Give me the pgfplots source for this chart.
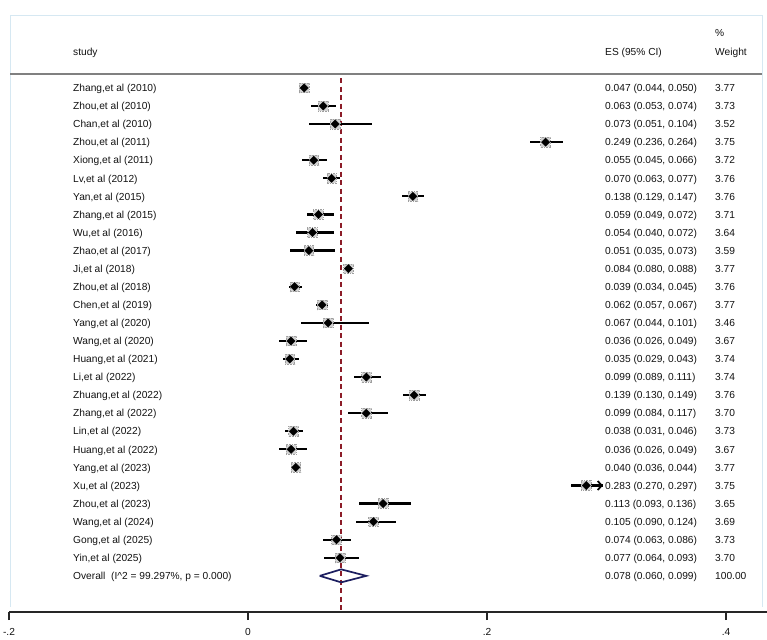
\documentclass[border=0pt]{standalone}
\usepackage{fontspec}
\setmainfont{Liberation Sans}
\usepackage{pgfplots}
\usepackage{pgfplotstable}
\pgfplotsset{compat=1.18}
\usetikzlibrary{arrows.meta}

\definecolor{refline}{RGB}{140,28,40}
\definecolor{pooled}{RGB}{28,30,96}
\definecolor{frameblue}{RGB}{214,232,242}
\definecolor{txt}{RGB}{18,18,18}

\pgfkeys{/pgf/number format/assume math mode=true,
  /pgf/number format/es fmt/.style={fixed,fixed zerofill,precision=3},
  /pgf/number format/wt fmt/.style={fixed,fixed zerofill,precision=2}}

% study-level estimates: row, label, effect size, 95% CI, weight (%)
\pgfplotstableread[col sep=semicolon]{
row;name;es;lo;hi;w
1;Zhang,et al (2010);0.047;0.044;0.050;3.77
2;Zhou,et al (2010);0.063;0.053;0.074;3.73
3;Chan,et al (2010);0.073;0.051;0.104;3.52
4;Zhou,et al (2011);0.249;0.236;0.264;3.75
5;Xiong,et al (2011);0.055;0.045;0.066;3.72
6;Lv,et al (2012);0.070;0.063;0.077;3.76
7;Yan,et al (2015);0.138;0.129;0.147;3.76
8;Zhang,et al (2015);0.059;0.049;0.072;3.71
9;Wu,et al (2016);0.054;0.040;0.072;3.64
10;Zhao,et al (2017);0.051;0.035;0.073;3.59
11;Ji,et al (2018);0.084;0.080;0.088;3.77
12;Zhou,et al (2018);0.039;0.034;0.045;3.76
13;Chen,et al (2019);0.062;0.057;0.067;3.77
14;Yang,et al (2020);0.067;0.044;0.101;3.46
15;Wang,et al (2020);0.036;0.026;0.049;3.67
16;Huang,et al (2021);0.035;0.029;0.043;3.74
17;Li,et al (2022);0.099;0.089;0.111;3.74
18;Zhuang,et al (2022);0.139;0.130;0.149;3.76
19;Zhang,et al (2022);0.099;0.084;0.117;3.70
20;Lin,et al (2022);0.038;0.031;0.046;3.73
21;Huang,et al (2022);0.036;0.026;0.049;3.67
22;Yang,et al (2023);0.040;0.036;0.044;3.77
23;Xu,et al (2023);0.283;0.270;0.297;3.75
24;Zhou,et al (2023);0.113;0.093;0.136;3.65
25;Wang,et al (2024);0.105;0.090;0.124;3.69
26;Gong,et al (2025);0.074;0.063;0.086;3.73
27;Yin,et al (2025);0.077;0.064;0.093;3.70
}\studies

% pooled estimate
\pgfplotstableread[col sep=semicolon]{
row;es;lo;hi;w
28;0.078;0.060;0.099;100.00
}\pooledtab

\begin{document}
\begin{tikzpicture}
\begin{axis}[
  scale only axis, width=758pt, height=612pt,
  xmin=-0.2, xmax=0.43431, ymin=-30, ymax=3.868,
  axis x line*=bottom, axis y line=none,
  axis line style={line width=1.3pt, black!85},
  clip=false,
  xtick={-0.2,0,0.2,0.4}, xticklabels={-.2,0,.2,.4},
  tick align=outside, major tick length=8pt,
  every tick/.style={black!85, line width=1.2pt},
  ytick=\empty,
  font=\fontsize{10.2}{12}\selectfont,
  ticklabel style={font=\fontsize{10.2}{12}\selectfont, text=txt},
  xticklabel style={inner sep=0pt, yshift=-8pt},
  every node near coord/.append style={anchor=base west, inner sep=0pt,
    yshift=-3.7pt, text=txt, font=\fontsize{10.2}{12}\selectfont},
]
% graph region frame and header rule
\draw[frameblue, line width=1pt] (axis cs:-0.19916,-29.7) -- (axis cs:-0.19916,2.985)
  -- (axis cs:0.43013,2.985) -- (axis cs:0.43013,-29.7);
\draw[black!50, line width=1.4pt] (axis cs:-0.19916,-0.225) -- (axis cs:0.43013,-0.225);

% pooled effect reference line
\addplot[refline, dash pattern=on 5pt off 3.5pt, line width=1.6pt]
  coordinates {(0.078,-0.45) (0.078,-30)};

% weight boxes with confidence intervals
\addplot[only marks, mark=square*, mark size=4.8pt,
  mark options={fill=gray!35, draw=gray!75, line width=0.6pt, densely dotted},
  error bars/.cd, x dir=both, x explicit, error mark=none,
  error bar style={line width=2.2pt, black, solid}]
  table[x=es, y expr=-\thisrow{row},
        x error plus expr=\thisrow{hi}-\thisrow{es},
        x error minus expr=\thisrow{es}-\thisrow{lo}]{\studies};

% point estimates
\addplot[only marks, mark=square*, mark size=2.9pt,
  mark options={rotate=45, fill=black, draw=black}]
  table[x=es, y expr=-\thisrow{row}]{\studies};

% CI running past the plotted range
\addplot[black, line width=1.8pt, -{Straight Barb[length=4pt,width=9pt]}]
  coordinates {(0.270,-23) (0.297,-23)};

% pooled estimate diamond
\addplot[pooled, line width=1.7pt, line join=miter]
  coordinates {(0.060,-28) (0.078,-27.64) (0.099,-28) (0.078,-28.36) (0.060,-28)};

% study labels
\addplot[draw=none, mark=none, point meta=explicit symbolic,
  nodes near coords={\pgfplotspointmeta}]
  table[x expr=-0.14644, y expr=-\thisrow{row}, meta=name]{\studies};

% ES (95% CI) column
\addplot[draw=none, mark=none,
  visualization depends on={\thisrow{es}\as\vES},
  visualization depends on={\thisrow{lo}\as\vLo},
  visualization depends on={\thisrow{hi}\as\vHi},
  nodes near coords={\pgfmathprintnumber[es fmt]{\vES} (\pgfmathprintnumber[es fmt]{\vLo}, \pgfmathprintnumber[es fmt]{\vHi})}]
  table[x expr=0.29874, y expr=-\thisrow{row}]{\studies};
\addplot[draw=none, mark=none,
  visualization depends on={\thisrow{es}\as\vES},
  visualization depends on={\thisrow{lo}\as\vLo},
  visualization depends on={\thisrow{hi}\as\vHi},
  nodes near coords={\pgfmathprintnumber[es fmt]{\vES} (\pgfmathprintnumber[es fmt]{\vLo}, \pgfmathprintnumber[es fmt]{\vHi})}]
  table[x expr=0.29874, y expr=-\thisrow{row}]{\pooledtab};

% weight column
\addplot[draw=none, mark=none,
  visualization depends on={\thisrow{w}\as\vW},
  nodes near coords={\pgfmathprintnumber[wt fmt]{\vW}}]
  table[x expr=0.39079, y expr=-\thisrow{row}]{\studies};
\addplot[draw=none, mark=none,
  visualization depends on={\thisrow{w}\as\vW},
  nodes near coords={\pgfmathprintnumber[wt fmt]{\vW}}]
  table[x expr=0.39079, y expr=-\thisrow{row}]{\pooledtab};

% headers and pooled label
\begin{scope}[every node/.style={anchor=base west, inner sep=0pt, yshift=-3.7pt,
    text=txt, font=\fontsize{10.2}{12}\selectfont}]
\node at (axis cs:-0.14644,1) {study};
\node at (axis cs:0.29874,1) {ES (95\% CI)};
\node at (axis cs:0.39079,2.05) {\%};
\node at (axis cs:0.39079,1) {Weight};
\node at (axis cs:-0.14644,-28) {Overall\ \ (I\textasciicircum 2 = 99.297\%, p = 0.000)};
\end{scope}
\end{axis}
\pgfresetboundingbox
\path (-9pt,-27pt) rectangle (758pt,612pt);
\end{tikzpicture}
\end{document}
